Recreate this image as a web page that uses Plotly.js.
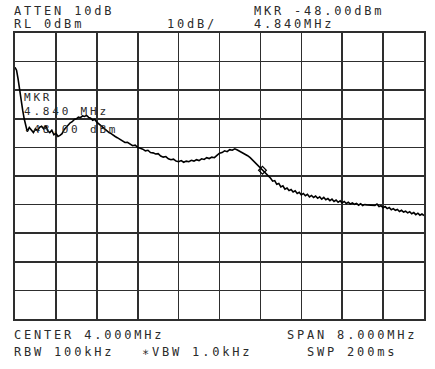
<!DOCTYPE html>
<html>
<head>
<meta charset="utf-8">
<script src="https://cdn.plot.ly/plotly-3.0.1.min.js"></script>
<style>
html,body{margin:0;padding:0;background:#fff;}
#chart{width:435px;height:369px;}
.annotation-text{letter-spacing:2.8px;}
</style>
</head>
<body>
<div id="chart"></div>
<script>
const freqMHz = [0.00,0.03,0.06,0.09,0.12,0.15,0.18,0.21,0.24,0.28,0.32,0.36,0.40,0.44,0.48,0.52,0.56,0.60,0.64,0.68,0.72,0.76,0.80,0.84,0.88,0.92,0.96,1.00,1.04,1.08,1.12,1.16,1.20,1.24,1.28,1.32,1.36,1.40,1.44,1.48,1.52,1.56,1.60,1.64,1.68,1.72,1.76,1.80,1.84,1.88,1.92,1.96,2.00,2.05,2.10,2.15,2.20,2.25,2.30,2.35,2.40,2.45,2.50,2.55,2.60,2.65,2.70,2.75,2.80,2.85,2.90,2.95,3.00,3.05,3.10,3.15,3.20,3.25,3.30,3.35,3.40,3.45,3.50,3.55,3.60,3.65,3.70,3.75,3.80,3.85,3.90,3.95,4.00,4.05,4.10,4.15,4.20,4.25,4.30,4.35,4.40,4.45,4.50,4.55,4.60,4.65,4.70,4.75,4.80,4.84,4.88,4.92,4.96,
  5.00,5.04,5.08,5.12,5.16,5.20,5.24,5.28,5.32,5.36,5.40,5.44,5.48,5.52,5.56,5.60,5.64,5.68,5.72,5.76,5.80,5.84,5.88,5.92,5.96,6.00,6.04,6.08,6.12,6.16,6.20,6.24,6.28,6.32,6.36,6.40,6.44,6.48,6.52,6.56,6.60,6.64,6.68,6.72,6.76,6.80,6.84,6.88,6.92,6.96,7.00,7.04,7.08,7.12,7.16,7.20,7.24,7.28,7.32,7.36,7.40,7.44,7.48,7.52,7.56,7.60,7.64,7.68,7.72,7.76,7.80,7.84,7.88,7.92,7.96,8.00];
const levelDBm = [-12,-13,-16,-20,-24,-27,-30,-33,-34.5,-33,-33.8,-34.8,-33.5,-34.2,-33,-32.6,-33.5,-32.4,-34.2,-34.8,-34.0,-35.6,-35.0,-36.2,-35.8,-35.2,-33.8,-33,-32.2,-31.4,-31,-30.2,-30,-29.4,-29.6,-29,-29.2,-28.8,-29.5,-29.8,-30.5,-30.2,-31.2,-31.8,-32.6,-33,-33.8,-34.2,-34.8,-35.2,-35.8,-36.2,-36.6,-37.2,-37.6,-38.3,-38.2,-38.8,-39.4,-39.2,-40,-40.3,-40.6,-41.2,-41,-41.8,-41.9,-42.3,-42.2,-43,-43.4,-43.2,-44,-44.3,-44.1,-44.8,-45,-44.6,-45.2,-44.8,-45,-44.5,-44.8,-44.3,-44.6,-44,-44.2,-43.6,-43.9,-43.4,-43.6,-42.8,-42,-41.8,-41.2,-41.5,-40.8,-41,-40.5,-40.9,-41.4,-41.8,-42.4,-42.9,-43.6,-44.5,-45.4,-46.2,-47.2,-48,-48.4,-49.4,-50.2,
  -50.8,-51.8,-51.6,-52.9,-52.6,-53.8,-53.4,-54.6,-54.2,-55.1,-54.7,-55.6,-55.2,-56.1,-55.7,-56.6,-56.1,-56.9,-56.4,-57.3,-56.8,-57.5,-57.0,-57.8,-57.3,-58.1,-57.5,-58.3,-57.9,-58.6,-58.1,-58.9,-58.4,-59.2,-58.7,-59.4,-58.9,-59.6,-59.2,-59.8,-59.4,-59.9,-59.6,-60.2,-59.7,-60.3,-60.0,-60.1,-60.1,-60.2,-60.2,-60.3,-59.8,-60.7,-60.4,-61.1,-60.7,-61.4,-61.0,-61.8,-61.4,-62.0,-61.7,-62.4,-62.0,-62.6,-62.3,-62.9,-62.5,-63.2,-62.8,-63.5,-63.0,-63.7,-63.3,-63.8];
const markerFreq = [4.84];
const markerLevel = [-48.0];
const headerLeft = ["ATTEN 10dB", "RL 0dBm"];
const headerMid = "10dB/";
const headerRight = ["MKR -48.00dBm", "4.840MHz"];
const footerLeft = ["CENTER 4.000MHz", "RBW 100kHz"];
const footerMid = "\u2217VBW 1.0kHz";
const footerRight = ["SPAN 8.000MHz", "SWP 200ms"];
const markerLabel = ["MKR", "4.840 MHz", "-48.00 dBm"];

const font = {family: "DejaVu Sans Mono", size: 12, color: "#2b2b2b"};
function ann(text, x, y, f) {
  return {text: text, xref: "paper", yref: "paper", x: x, y: y,
          xanchor: "left", yanchor: "middle", showarrow: false, font: f || font};
}
const mkFont = {family: "DejaVu Sans Mono", size: 11, color: "#2b2b2b"};
const annotations = [
  ann(headerLeft[0], -0.008, 1.077),
  ann(headerLeft[1], -0.008, 1.031),
  ann(headerMid, 0.367, 1.031),
  ann(headerRight[0], 0.579, 1.077),
  ann(headerRight[1], 0.579, 1.031),
  ann(footerLeft[0], -0.008, -0.056),
  ann(footerLeft[1], -0.008, -0.115),
  ann(footerMid, 0.306, -0.115),
  ann(footerRight[0], 0.660, -0.056),
  ann(footerRight[1], 0.709, -0.115),
  ann(markerLabel[0], 0.017, 0.7745, mkFont),
  ann(markerLabel[1], 0.017, 0.7255, mkFont),
  ann(markerLabel[2], 0.017, 0.663, mkFont)
];

const traces = [
  {x: freqMHz, y: levelDBm, type: "scatter", mode: "lines",
   line: {color: "#000", width: 1.6}, hoverinfo: "skip"},
  {x: markerFreq, y: markerLevel, type: "scatter", mode: "markers",
   marker: {symbol: "diamond-open", size: 6, color: "#000", line: {width: 1.2}}, hoverinfo: "skip"}
];

const axisCommon = {showgrid: true, gridcolor: "#2e2e2e", gridwidth: 1.6,
  showline: true, linecolor: "#2e2e2e", linewidth: 1.6, mirror: true,
  zeroline: false, showticklabels: false, ticks: "", fixedrange: true};

const layout = {
  width: 435, height: 369,
  margin: {l: 15, r: 11, t: 33, b: 50, pad: 0},
  paper_bgcolor: "#fff", plot_bgcolor: "#fff",
  showlegend: false,
  xaxis: Object.assign({}, axisCommon, {range: [0, 8], dtick: 0.8, tick0: 0}),
  yaxis: Object.assign({}, axisCommon, {range: [-100, 0], dtick: 10, tick0: 0}),
  annotations: annotations
};

Plotly.newPlot("chart", traces, layout, {displayModeBar: false, staticPlot: true});
</script>
</body>
</html>
